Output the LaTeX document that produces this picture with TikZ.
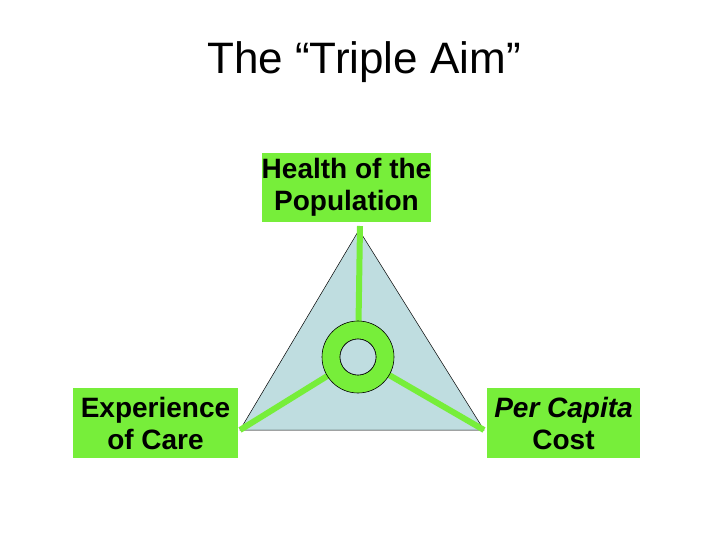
\documentclass[tikz,border=0pt]{standalone}
\usepackage{fontspec}
\setmainfont{Liberation Sans}
\definecolor{gr}{HTML}{77EE3A}
\definecolor{tri}{HTML}{BFDDE0}
\begin{document}
\begin{tikzpicture}[x=1pt,y=-1pt,
  lbl/.style={fill=gr,font=\fontsize{28}{32}\selectfont\bfseries,align=center,inner sep=0pt},
  spoke/.style={gr,line width=6pt}]
\useasboundingbox (0,0) rectangle (728,546);
\node (title) at (364,62) {\fontsize{44}{48}\selectfont The “Triple Aim”};
\coordinate (A) at (359,230);
\coordinate (B) at (240,430);
\coordinate (C) at (484,430);
\coordinate (O) at (358,357);
\draw[fill=tri,line width=0.5pt] (A) -- (B) -- (C) -- cycle;
\draw[spoke] (360,226) -- (O);
\draw[spoke] (O) -- (B);
\draw[spoke] (O) -- (C);
\draw[fill=gr,line width=0.6pt,even odd rule] (O) circle (36) (O) circle (18);
\draw[fill=tri,line width=0.6pt] (O) circle (18);
\node[lbl,minimum width=167,minimum height=69] (top) at (346.5,187.5) {Health of the\\Population};
\node[lbl,minimum width=165,minimum height=70] (left) at (155.5,423) {Experience\\of Care};
\node[lbl,minimum width=153,minimum height=70] (right) at (563.5,423) {\textit{Per Capita}\\Cost};
\end{tikzpicture}
\end{document}
